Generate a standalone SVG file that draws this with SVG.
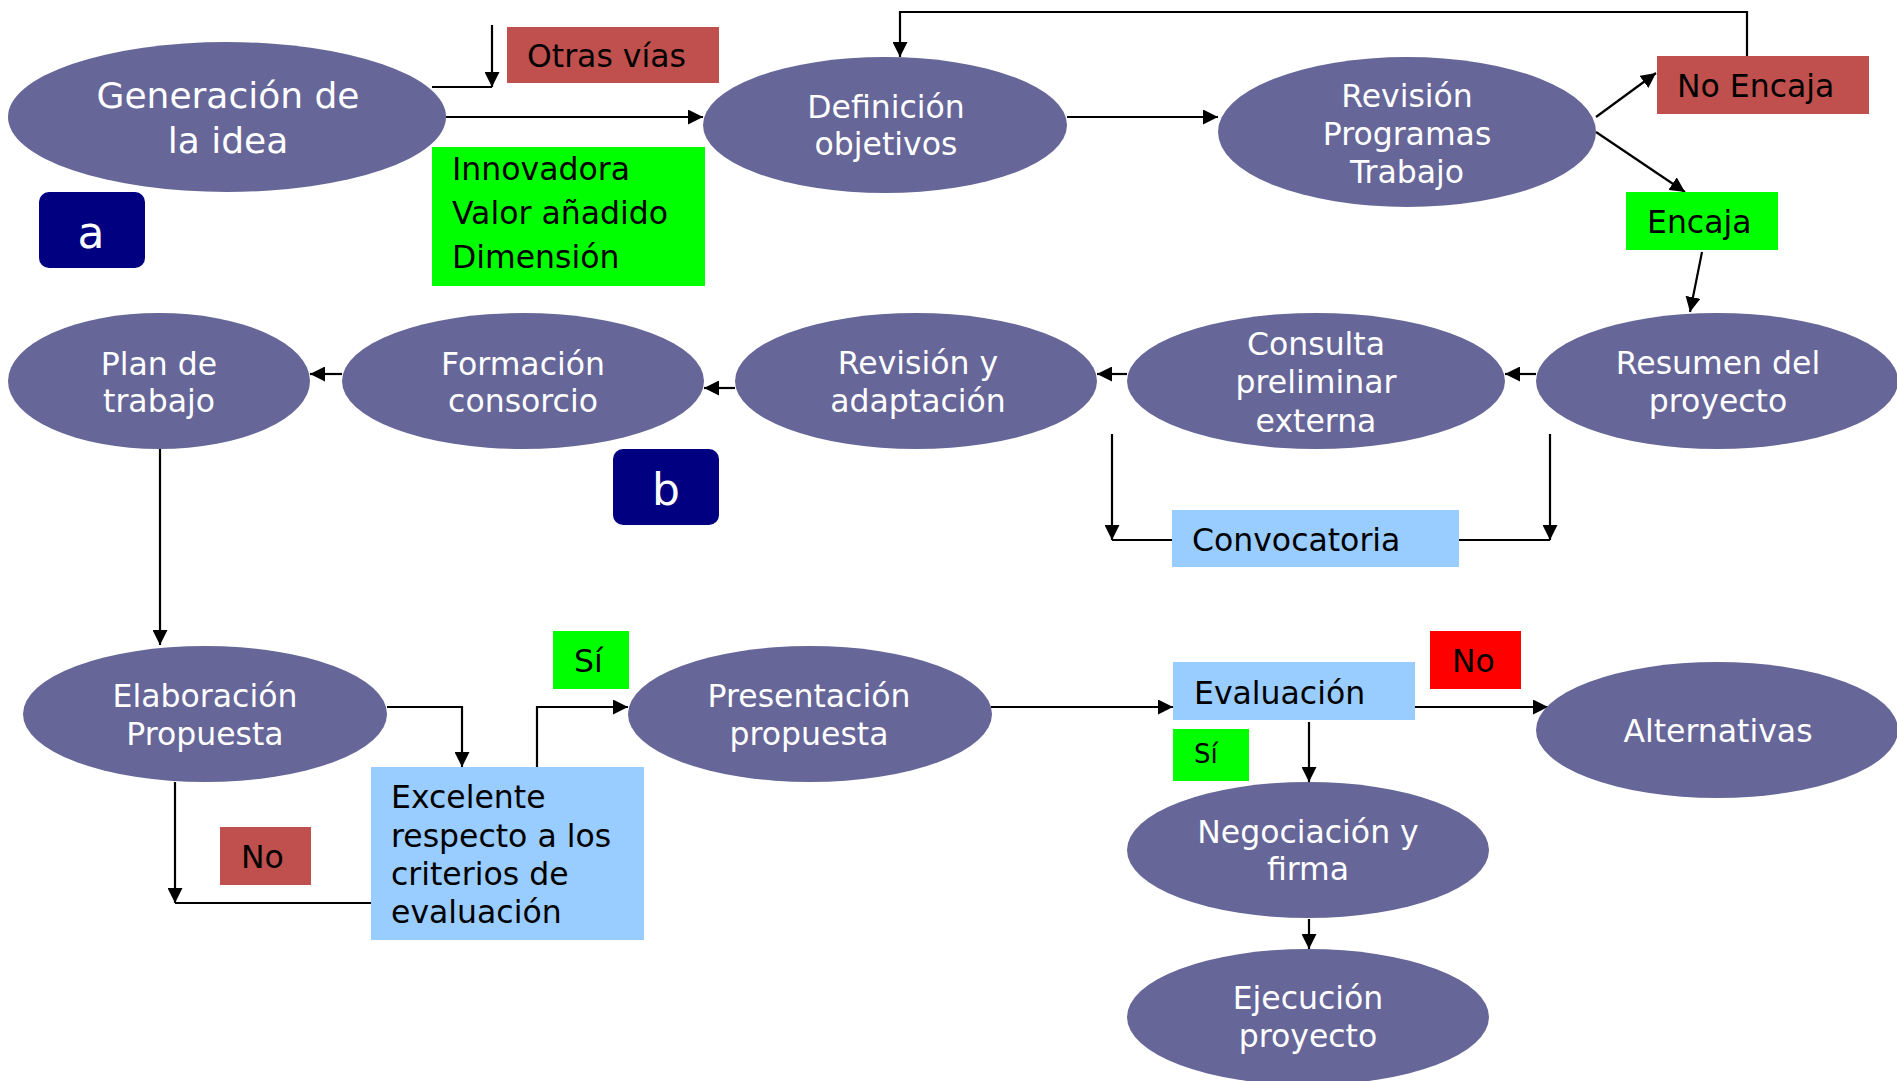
<svg xmlns="http://www.w3.org/2000/svg" width="1897" height="1081" viewBox="0 0 1897 1081">
<defs>
<marker id="ah" markerWidth="15" markerHeight="15" refX="15" refY="7.5" orient="auto" markerUnits="userSpaceOnUse"><path d="M0,0 L15,7.5 L0,15 z" fill="#000"/></marker>
<style>
.el{fill:#666699}
.et{fill:#fff;font-family:"DejaVu Sans",Verdana,sans-serif;font-size:31.5px;text-anchor:middle}
.lt{fill:#000;font-family:"DejaVu Sans",Verdana,sans-serif;font-size:31.5px}
.red{fill:#C0504D}
.grn{fill:#00FF00}
.blu{fill:#99CCFF}
.rr{fill:#FF0000}
.nav{fill:#000080}
.bt{fill:#fff;font-family:"DejaVu Sans",Verdana,sans-serif;font-size:44px;text-anchor:middle}
.cn path{fill:none;stroke:#000;stroke-width:2.2}
.cn .a{marker-end:url(#ah)}
</style>
</defs>
<rect width="1897" height="1081" fill="#fff"/>
<g class="cn" id="connectors">
<path class="a" d="M446,117 H703"/>
<path class="a" d="M492,25 V87"/>
<path d="M432,87 H492"/>
<path class="a" d="M1067,117 H1218"/>
<path class="a" d="M1747,56 V12 H900 V57"/>
<path class="a" d="M1596,117 L1656,73"/>
<path class="a" d="M1596,132 L1685,192"/>
<path class="a" d="M1702,252 L1690,312"/>
<path class="a" d="M1536,374 H1505"/>
<path class="a" d="M1127,374 H1097"/>
<path class="a" d="M735,388 H704"/>
<path class="a" d="M342,374 H310"/>
<path class="a" d="M1112,434 V540"/>
<path d="M1172,540 H1112"/>
<path class="a" d="M1550,434 V540"/>
<path d="M1459,540 H1550"/>
<path class="a" d="M160,449 V645"/>
<path class="a" d="M387,707 H462 V767"/>
<path class="a" d="M537,767 V707 H628"/>
<path class="a" d="M175,782 V903"/>
<path d="M371,903 H175"/>
<path class="a" d="M991,707 H1173"/>
<path class="a" d="M1415,707 H1548"/>
<path class="a" d="M1309,722 V782"/>
<path class="a" d="M1309,919 V949"/>
</g>
<g id="n-generacion"><ellipse class="el" cx="227" cy="117" rx="219" ry="75"/><text class="et" style="font-size:36px" x="228" y="108">Generación de</text><text class="et" style="font-size:36px" x="228" y="153">la idea</text></g>
<g id="n-definicion"><ellipse class="el" cx="885" cy="125" rx="182" ry="68"/><text class="et" x="886" y="118">Definición</text><text class="et" x="886" y="155">objetivos</text></g>
<g id="n-revision-prog"><ellipse class="el" cx="1407" cy="132" rx="189" ry="75"/><text class="et" x="1407" y="107">Revisión</text><text class="et" x="1407" y="145">Programas</text><text class="et" x="1407" y="183">Trabajo</text></g>
<g id="n-plan"><ellipse class="el" cx="159" cy="381" rx="151" ry="68"/><text class="et" x="159" y="375">Plan de</text><text class="et" x="159" y="412">trabajo</text></g>
<g id="n-formacion"><ellipse class="el" cx="523" cy="381" rx="181" ry="68"/><text class="et" x="523" y="375">Formación</text><text class="et" x="523" y="412">consorcio</text></g>
<g id="n-revision-adapt"><ellipse class="el" cx="916" cy="381" rx="181" ry="68"/><text class="et" x="918" y="374">Revisión y</text><text class="et" x="918" y="412">adaptación</text></g>
<g id="n-consulta"><ellipse class="el" cx="1316" cy="381" rx="189" ry="68"/><text class="et" x="1316" y="355">Consulta</text><text class="et" x="1316" y="393">preliminar</text><text class="et" x="1316" y="432">externa</text></g>
<g id="n-resumen"><ellipse class="el" cx="1717" cy="381" rx="181" ry="68"/><text class="et" x="1718" y="374">Resumen del</text><text class="et" x="1718" y="412">proyecto</text></g>
<g id="n-elaboracion"><ellipse class="el" cx="205" cy="714" rx="182" ry="68"/><text class="et" x="205" y="707">Elaboración</text><text class="et" x="205" y="745">Propuesta</text></g>
<g id="n-presentacion"><ellipse class="el" cx="810" cy="714" rx="182" ry="68"/><text class="et" x="809" y="707">Presentación</text><text class="et" x="809" y="745">propuesta</text></g>
<g id="n-alternativas"><ellipse class="el" cx="1717" cy="730" rx="181" ry="68"/><text class="et" x="1718" y="742">Alternativas</text></g>
<g id="n-negociacion"><ellipse class="el" cx="1308" cy="850" rx="181" ry="68"/><text class="et" x="1308" y="843">Negociación y</text><text class="et" x="1308" y="880">firma</text></g>
<g id="n-ejecucion"><ellipse class="el" cx="1308" cy="1017" rx="181" ry="68"/><text class="et" x="1308" y="1009">Ejecución</text><text class="et" x="1308" y="1047">proyecto</text></g>
<g id="l-otras"><rect class="red" x="507" y="27" width="212" height="56"/><text class="lt" x="527" y="67">Otras vías</text></g>
<g id="l-criterios"><rect class="grn" x="432" y="147" width="273" height="139"/><text class="lt" x="452" y="180">Innovadora</text><text class="lt" x="452" y="224">Valor añadido</text><text class="lt" x="452" y="268">Dimensión</text></g>
<g id="l-a"><rect class="nav" x="39" y="192" width="106" height="76" rx="10"/><text class="bt" x="91" y="248">a</text></g>
<g id="l-b"><rect class="nav" x="613" y="449" width="106" height="76" rx="10"/><text class="bt" x="666" y="505">b</text></g>
<g id="l-noencaja"><rect class="red" x="1657" y="56" width="212" height="58"/><text class="lt" x="1677" y="97">No Encaja</text></g>
<g id="l-encaja"><rect class="grn" x="1626" y="192" width="152" height="58"/><text class="lt" x="1647" y="233">Encaja</text></g>
<g id="l-convocatoria"><rect class="blu" x="1172" y="510" width="287" height="57"/><text class="lt" x="1192" y="551">Convocatoria</text></g>
<g id="l-si1"><rect class="grn" x="553" y="631" width="76" height="58"/><text class="lt" x="574" y="672">Sí</text></g>
<g id="l-excelente"><rect class="blu" x="371" y="767" width="273" height="173"/><text class="lt" x="391" y="808">Excelente</text><text class="lt" x="391" y="847">respecto a los</text><text class="lt" x="391" y="885">criterios de</text><text class="lt" x="391" y="923">evaluación</text></g>
<g id="l-no1"><rect class="red" x="220" y="827" width="91" height="58"/><text class="lt" x="241" y="868">No</text></g>
<g id="l-evaluacion"><rect class="blu" x="1173" y="662" width="242" height="58"/><text class="lt" x="1194" y="704">Evaluación</text></g>
<g id="l-si2"><rect class="grn" x="1173" y="729" width="76" height="52"/><text class="lt" style="font-size:26px" x="1194" y="763">Sí</text></g>
<g id="l-no2"><rect class="rr" x="1430" y="631" width="91" height="58"/><text class="lt" x="1452" y="672">No</text></g>
</svg>
